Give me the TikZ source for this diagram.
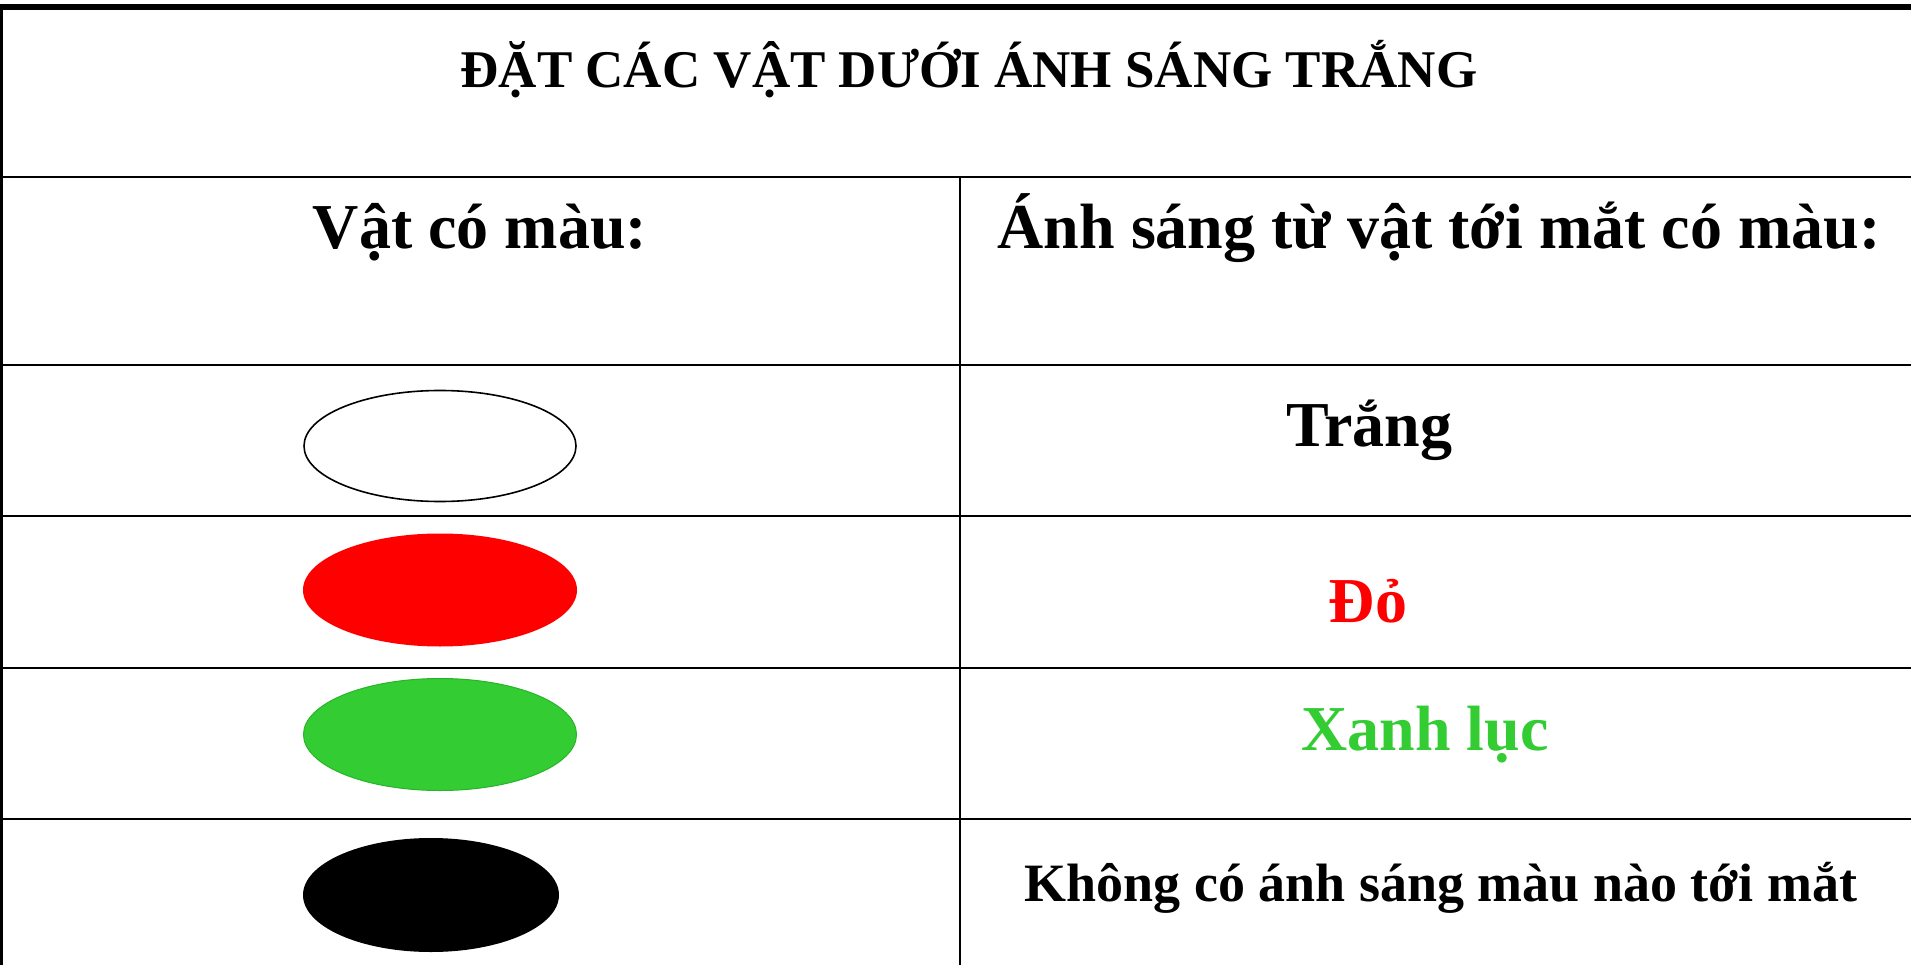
\documentclass[tikz,border=0pt]{standalone}
\usepackage{fontspec}
\setmainfont{Liberation Serif}
\definecolor{limeg}{RGB}{51,204,51}
\definecolor{limegdark}{RGB}{40,180,40}
\begin{document}
\begin{tikzpicture}[x=1pt,y=-1pt,
  rule/.style={line width=2.6pt,black},
  bigtxt/.style={anchor=base,inner sep=0pt,font=\fontsize{64}{76}\selectfont\bfseries},
  midtxt/.style={anchor=base,inner sep=0pt,font=\fontsize{54}{64}\selectfont\bfseries},
  titletxt/.style={anchor=base,inner sep=0pt,font=\fontsize{53}{64}\selectfont\bfseries}]
\useasboundingbox[fill=white] (0,0) rectangle (1911,965);
% table rules
\draw[line width=6pt] (0,7) -- (1911,7);
\draw[line width=3pt] (1.5,4) -- (1.5,965);
\foreach \yy in {177,365,516,668,819}
  \draw[rule] (0,\yy) -- (1911,\yy);
\draw[line width=2.5pt] (960,177) -- (960,965);
% ellipses
\draw[line width=1.6pt,fill=white] (440,446) ellipse [x radius=136, y radius=55.5];
\fill[red] (440,590) ellipse [x radius=137, y radius=56.5];
\draw[line width=1pt,draw=limegdark,fill=limeg] (440,734.5) ellipse [x radius=136.5, y radius=56];
\fill[black] (431,895) ellipse [x radius=128, y radius=57];
% texts
\node[titletxt] (title) at (969,88) {ĐẶT CÁC VẬT DƯỚI ÁNH SÁNG TRẮNG};
\node[bigtxt] (h1) at (480,249) {Vật có màu:};
\node[bigtxt] (h2) at (1439,249) {Ánh sáng từ vật tới mắt có màu:};
\node[bigtxt] (t1) at (1369,446) {Trắng};
\node[bigtxt,text=red] (t2) at (1368,622) {Đỏ};
\node[bigtxt,text=limeg] (t3) at (1425,750) {Xanh lục};
\node[midtxt] (t4) at (1441,901) {Không có ánh sáng màu nào tới mắt};
\end{tikzpicture}
\end{document}
